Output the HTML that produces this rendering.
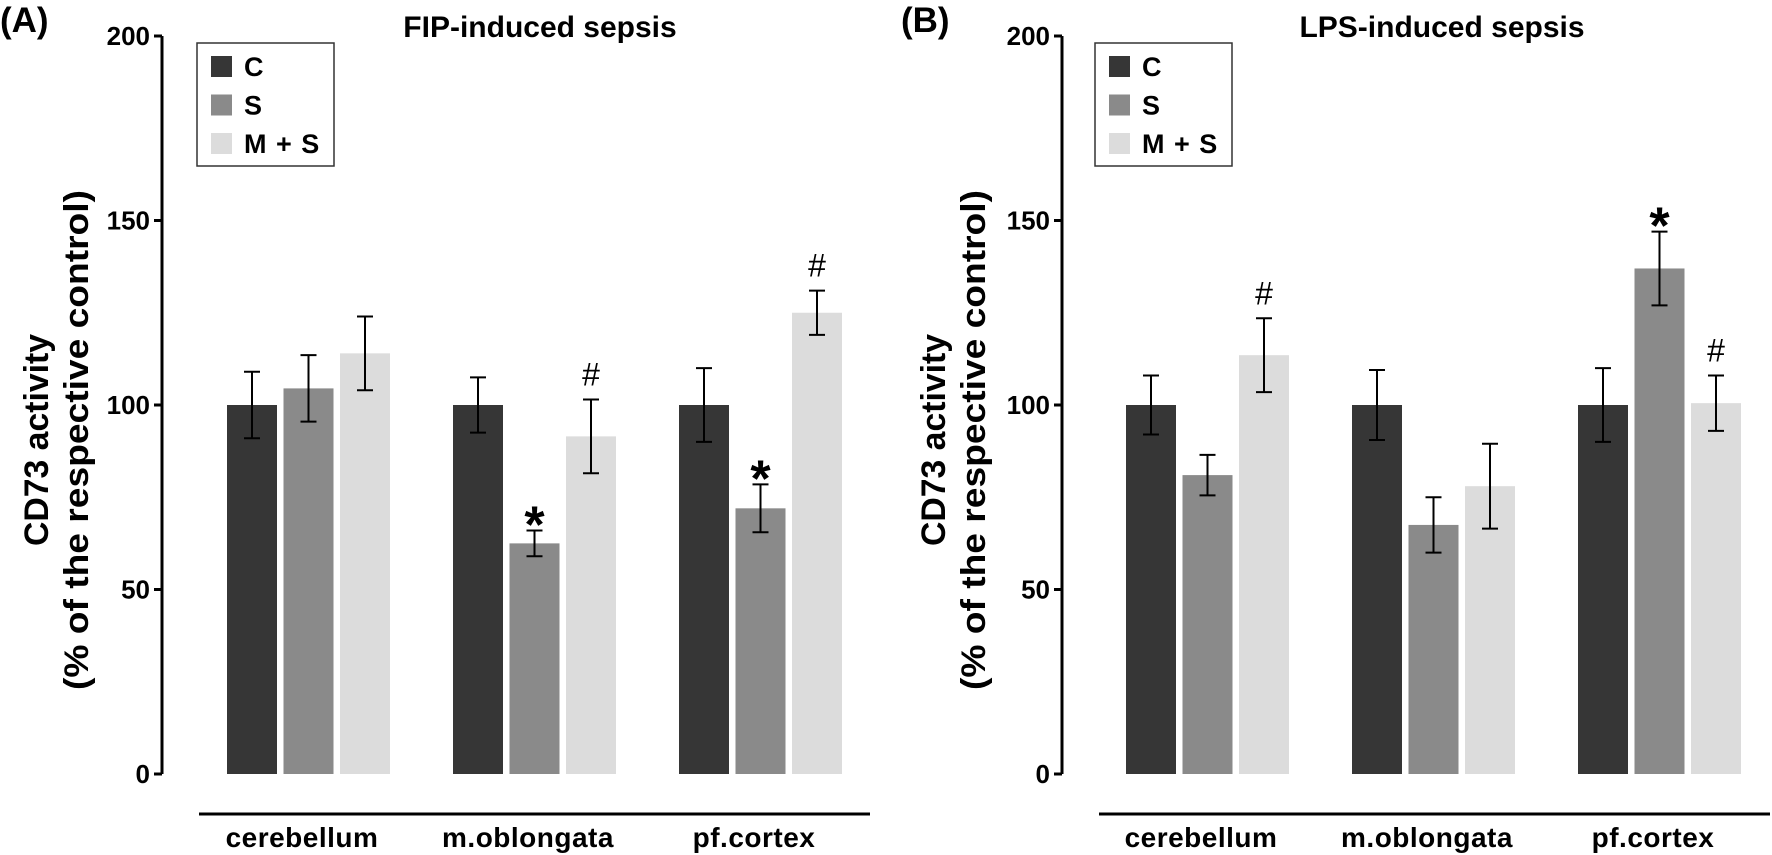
<!DOCTYPE html>
<html><head><meta charset="utf-8"><style>
html,body{margin:0;padding:0;background:#fff;}
svg{display:block;font-family:"Liberation Sans",Arial,sans-serif;}
</style></head><body>
<svg id="chart" width="1772" height="855" viewBox="0 0 1772 855" xmlns="http://www.w3.org/2000/svg"></svg>
<script>
const categories = ["cerebellum","m.oblongata","pf.cortex"];
const seriesNames = ["C","S","M + S"];
const fipMeans = [[100,104.5,114],[100,62.5,91.5],[100,72,125]];
const fipErrs = [[9,9,10],[7.5,3.5,10],[10,6.5,6]];
const fipMarks = [["","",""],["","*","#"],["","*","#"]];
const lpsMeans = [[100,81,113.5],[100,67.5,78],[100,137,100.5]];
const lpsErrs = [[8,5.5,10],[9.5,7.5,11.5],[10,10,7.5]];
const lpsMarks = [["","","#"],["","",""],["","*","#"]];
const yTicks = [0,50,100,150,200];

const NS="http://www.w3.org/2000/svg";
const svg=document.getElementById('chart');
const colors=["#363636","#8a8a8a","#dcdcdc"];
function mk(tag,attrs,parent){const e=document.createElementNS(NS,tag);for(const k in attrs)e.setAttribute(k,attrs[k]);(parent||svg).appendChild(e);return e;}
const y0=774, y200=36;
function yScale(v){return y0-(v/200)*(y0-y200);}

function panel(cfg){
  const g=mk('g',{});
  
  
  const lab=mk('text',{x:cfg.labelX,y:32,'font-size':35,'font-weight':'bold'},g);lab.textContent=cfg.label;
  
  
  const t=mk('text',{x:cfg.titleX,y:37,'font-size':30,'font-weight':'bold','text-anchor':'middle'},g);t.textContent=cfg.title;
  
  
  const ax=mk('line',{x1:cfg.axisX,x2:cfg.axisX,y1:yScale(200),y2:yScale(0),stroke:'#000','stroke-width':3},g);
  
  
  yTicks.forEach(v=>{
    const tk=mk('line',{x1:cfg.axisX-8,x2:cfg.axisX,y1:yScale(v),y2:yScale(v),stroke:'#000','stroke-width':3},g);
    
    
    const tl=mk('text',{x:cfg.axisX-12,y:yScale(v)+9,'font-size':26,'font-weight':'bold','text-anchor':'end'},g);tl.textContent=v;
    
    
  });
  const yt=mk('text',{transform:`translate(${cfg.ytX},440) rotate(-90)`,'font-size':34,'font-weight':'bold','text-anchor':'middle'},g);
  
  
  const l1=mk('tspan',{x:0,dy:0,textLength:212,lengthAdjust:'spacingAndGlyphs'},yt);l1.textContent="CD73 activity";
  const l2=mk('tspan',{x:0,dy:40,textLength:500,lengthAdjust:'spacingAndGlyphs'},yt);l2.textContent="(% of the respective control)";
  const bl=mk('line',{x1:cfg.lineX1,x2:cfg.lineX2,y1:814,y2:814,stroke:'#000','stroke-width':3},g);
  
  
  categories.forEach((c,i)=>{
    const gx=cfg.firstBar+i*cfg.groupStep;
    cfg.means[i].forEach((m,j)=>{
      const x=gx+j*56.5, w=50, cx=x+w/2;
      const r=mk('rect',{x:x,y:yScale(m),width:w,height:yScale(0)-yScale(m),fill:colors[j]},g);
      
      
      const e=cfg.errs[i][j];
      const eb=mk('path',{d:`M${cx},${yScale(m+e)}V${yScale(m-e)}M${cx-8},${yScale(m+e)}H${cx+8}M${cx-8},${yScale(m-e)}H${cx+8}`,stroke:'#000','stroke-width':2,fill:'none'},g);
      
      
      const mark=cfg.marks[i][j];
      if(mark){
        const star=mark==="*";
        const mt=mk('text',{x:cx,y:yScale(m+e)-(star?-12:14),'font-size':star?52:32,'font-weight':star?'bold':'normal','text-anchor':'middle'},g);
        mt.textContent=mark;
        
        
      }
    });
    const xl=mk('text',{x:gx+75,y:847,'font-size':28,'font-weight':'bold','text-anchor':'middle','letter-spacing':0.5},g);xl.textContent=c;
    
    
  });
  const lg=mk('g',{},g);
  
  
  mk('rect',{x:cfg.legX,y:43,width:137,height:123,fill:'#fff',stroke:'#333','stroke-width':1.5},lg);
  seriesNames.forEach((s,j)=>{
    const yy=56+j*38.5;
    const sw=mk('rect',{x:cfg.legX+14,y:yy,width:21,height:21,fill:colors[j]},lg);
    
    
    const lt=mk('text',{x:cfg.legX+47,y:yy+20,'font-size':27,'font-weight':'bold','letter-spacing':1},lg);lt.textContent=s;
    
    
  });
}
panel({name:'panel-a-fip',label:'(A)',labelX:0,title:'FIP-induced sepsis',titleX:540,axisX:162,ytX:48,lineX1:199,lineX2:870,firstBar:227,groupStep:226,legX:197,means:fipMeans,errs:fipErrs,marks:fipMarks});
panel({name:'panel-b-lps',label:'(B)',labelX:901,title:'LPS-induced sepsis',titleX:1442,axisX:1062,ytX:945,lineX1:1099,lineX2:1770,firstBar:1126,groupStep:226,legX:1095,means:lpsMeans,errs:lpsErrs,marks:lpsMarks});
</script>
</body></html>
